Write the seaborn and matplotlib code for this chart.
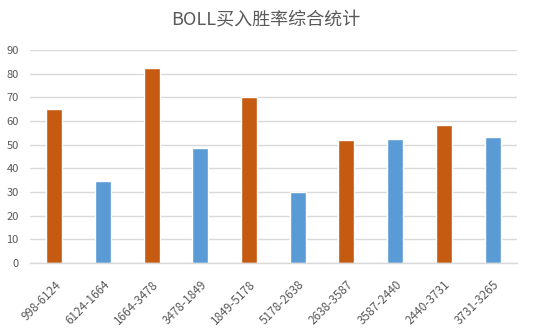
import matplotlib
matplotlib.use("Agg")
import matplotlib.pyplot as plt
import seaborn as sns
import pandas as pd

categories = ["998-6124", "6124-1664", "1664-3478", "3478-1849", "1849-5178",
              "5178-2638", "2638-3587", "3587-2440", "2440-3731", "3731-3265"]
values = [65.2, 34.7, 82.5, 48.7, 70.0, 30.0, 52.0, 52.5, 58.4, 53.3]
bar_colors = ["#C55A11", "#5B9BD5", "#C55A11", "#5B9BD5", "#C55A11",
              "#5B9BD5", "#C55A11", "#5B9BD5", "#C55A11", "#5B9BD5"]
title = "BOLL买入胜率综合统计"
yticks = [0, 10, 20, 30, 40, 50, 60, 70, 80, 90]

sns.set_theme(style="white")
plt.rcParams['font.family'] = ['Noto Sans CJK SC', 'DejaVu Sans']

df = pd.DataFrame({"cat": categories, "val": values})
fig = plt.figure(figsize=(5.34, 3.35), dpi=100)
ax = fig.add_axes([0.056, 0.215, 0.912, 0.636])
sns.barplot(data=df, x="cat", y="val", hue="cat",
            palette=dict(zip(categories, bar_colors)),
            width=0.33, legend=False, ax=ax, saturation=1)
ax.set_ylim(0, 90)
ax.set_xlim(-0.5, len(categories) - 0.5)
ax.set_yticks(yticks)
ax.yaxis.grid(True, color="#D9D9D9", linewidth=1)
ax.set_axisbelow(True)
for s in ["top", "right", "left"]:
    ax.spines[s].set_visible(False)
ax.spines["bottom"].set_color("#D9D9D9")
ax.spines["bottom"].set_linewidth(1)
ax.set_xlabel("")
ax.set_ylabel("")
ax.tick_params(axis="y", length=0, labelsize=8, labelcolor="#595959", pad=8)
ax.tick_params(axis="x", length=0, labelsize=8.5, labelcolor="#595959", pad=11)
for lab in ax.get_xticklabels():
    lab.set_rotation(45)
    lab.set_ha("right")
    lab.set_rotation_mode("anchor")
fig.text(0.497, 0.94, title, ha="center", va="center", fontsize=13, color="#595959")
fig.savefig("out.png", dpi=100, facecolor="white")
